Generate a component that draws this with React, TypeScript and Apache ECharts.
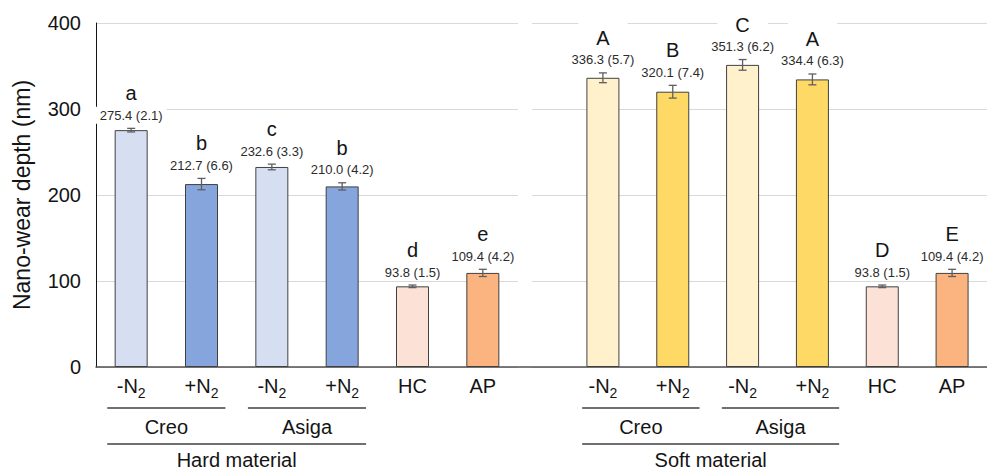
import React, { useEffect, useRef } from "react";
import * as echarts from "echarts";

const FONT = '"Liberation Sans", Arial, sans-serif';

// Tick labels
const hardLabels = ["-N2", "+N2", "-N2", "+N2", "HC", "AP"];
const softLabels = ["-N2", "+N2", "-N2", "+N2", "HC", "AP"];
const brandLabels = ["Creo", "Asiga"];
const materialLabels = ["Hard material", "Soft material"];
const yAxisName = "Nano-wear depth (nm)";

// Values (mean, SD) and significance letters
const hardMeans = [275.4, 212.7, 232.6, 210.0, 93.8, 109.4];
const hardSD = [2.1, 6.6, 3.3, 4.2, 1.5, 4.2];
const hardLetters = ["a", "b", "c", "b", "d", "e"];
const softMeans = [336.3, 320.1, 351.3, 334.4, 93.8, 109.4];
const softSD = [5.7, 7.4, 6.2, 6.3, 1.5, 4.2];
const softLetters = ["A", "B", "C", "A", "D", "E"];

// Colours
const hardColors = ["#D6DFF2", "#86A5DD", "#D6DFF2", "#86A5DD", "#FCE2D6", "#FBB37F"];
const softColors = ["#FFF1CC", "#FFD966", "#FFF1CC", "#FFD966", "#FCE2D6", "#FBB37F"];

const TEXT = "#141414";

function tickFormatter(labels: string[]) {
  return (_v: string, idx: number) => {
    const t = labels[idx];
    if (t.endsWith("N2")) return `{m|${t.slice(0, -1)}}{s|2}`;
    return `{m|${t}}`;
  };
}

const axisLabelRich = {
  m: { fontSize: 20, lineHeight: 24, verticalAlign: "top", color: TEXT, fontFamily: FONT },
  s: { fontSize: 14, lineHeight: 14, verticalAlign: "bottom", color: TEXT, fontFamily: FONT },
};

function makeRender(letters: string[]) {
  return (_params: any, api: any) => {
    const i = api.value(0);
    const m = api.value(1);
    const s = api.value(2);
    const top = api.coord([i, m + s]);
    const bot = api.coord([i, m - s]);
    const x = top[0];
    const cap = 4;
    const eb = { stroke: "#5f5f5f", lineWidth: 1.3 };
    return {
      type: "group",
      children: [
        { type: "line", shape: { x1: x, y1: top[1], x2: x, y2: bot[1] }, style: eb },
        { type: "line", shape: { x1: x - cap, y1: top[1], x2: x + cap, y2: top[1] }, style: eb },
        { type: "line", shape: { x1: x - cap, y1: bot[1], x2: x + cap, y2: bot[1] }, style: eb },
        {
          type: "text",
          x,
          y: top[1] - 35,
          style: {
            text: letters[i],
            fill: TEXT,
            fontSize: 20,
            fontFamily: FONT,
            align: "center",
            verticalAlign: "middle",
            backgroundColor: "#fff",
            padding: [7, 18],
          },
        },
        {
          type: "text",
          x,
          y: top[1] - 13,
          style: {
            text: `${m.toFixed(1)} (${s.toFixed(1)})`,
            fill: "#2b2b2b",
            fontSize: 13,
            fontFamily: FONT,
            align: "center",
            verticalAlign: "middle",
            backgroundColor: "#fff",
            padding: [2, 4],
          },
        },
      ],
    };
  };
}

export default function App() {
  const ref = useRef<HTMLDivElement>(null);
  useEffect(() => {
    if (!ref.current) return;
    const chart = echarts.init(ref.current, undefined, { renderer: "svg" });
    const yBase = { type: "value", min: 0, max: 400, interval: 100 };
    const option: any = {
      animation: false,
      textStyle: { fontFamily: FONT },
      grid: [
        { left: 96, top: 23, width: 422, height: 344 },
        { left: 532, top: 23, right: 0, height: 344 },
        { left: 568, top: 23, width: 423, height: 344 },
        { left: 96, top: 23, right: 0, height: 344 },
      ],
      xAxis: [
        {
          type: "category",
          gridIndex: 0,
          data: hardLabels,
          axisLine: { show: false },
          axisTick: { show: false },
          axisLabel: { formatter: tickFormatter(hardLabels), rich: axisLabelRich, margin: 9, interval: 0 },
        },
        { type: "value", gridIndex: 1, show: false },
        {
          type: "category",
          gridIndex: 2,
          data: softLabels,
          axisLine: { show: false },
          axisTick: { show: false },
          axisLabel: { formatter: tickFormatter(softLabels), rich: axisLabelRich, margin: 9, interval: 0 },
        },
        {
          type: "value",
          gridIndex: 3,
          axisLine: { show: true, onZero: false, lineStyle: { color: "#505050", width: 1.5 } },
          axisTick: { show: false },
          axisLabel: { show: false },
          splitLine: { show: false },
        },
      ],
      yAxis: [
        {
          ...yBase,
          gridIndex: 0,
          axisLine: { show: true, lineStyle: { color: TEXT, width: 1 } },
          axisTick: { show: false },
          axisLabel: { fontSize: 20, color: TEXT, margin: 15, fontFamily: FONT },
          splitLine: { lineStyle: { color: "#d9d9d9", width: 1 } },
          name: yAxisName,
          nameLocation: "middle",
          nameGap: 63,
          nameTextStyle: { fontSize: 23, color: TEXT, fontFamily: FONT },
        },
        {
          ...yBase,
          gridIndex: 1,
          axisLine: { show: false },
          axisTick: { show: false },
          axisLabel: { show: false },
          splitLine: { lineStyle: { color: "#d9d9d9", width: 1 } },
        },
        { ...yBase, gridIndex: 2, show: false },
        { ...yBase, gridIndex: 3, show: false },
      ],
      series: [
        {
          type: "bar",
          xAxisIndex: 0,
          yAxisIndex: 0,
          barWidth: 33,
          itemStyle: { borderColor: "#404040", borderWidth: 1 },
          data: hardMeans.map((v, i) => ({ value: v, itemStyle: { color: hardColors[i] } })),
        },
        {
          type: "bar",
          xAxisIndex: 2,
          yAxisIndex: 2,
          barWidth: 33,
          itemStyle: { borderColor: "#404040", borderWidth: 1 },
          data: softMeans.map((v, i) => ({ value: v, itemStyle: { color: softColors[i] } })),
        },
        {
          type: "custom",
          xAxisIndex: 0,
          yAxisIndex: 0,
          z: 5,
          renderItem: makeRender(hardLetters),
          data: hardMeans.map((v, i) => [i, v, hardSD[i]]),
        },
        {
          type: "custom",
          xAxisIndex: 2,
          yAxisIndex: 2,
          z: 5,
          renderItem: makeRender(softLetters),
          data: softMeans.map((v, i) => [i, v, softSD[i]]),
        },
      ],
    };
    chart.setOption(option);

    // Group labels under the axis, positioned from the category axes
    const graphics: any[] = [];
    const lineStyle = { stroke: "#404040", lineWidth: 1.3 };
    const textStyle = (text: string) => ({
      text,
      fill: TEXT,
      fontSize: 20,
      fontFamily: FONT,
      align: "center",
      verticalAlign: "middle",
    });
    [0, 2].forEach((axisIdx, g) => {
      const p = (i: number) => chart.convertToPixel({ xAxisIndex: axisIdx } as any, i) as number;
      const band = p(1) - p(0);
      const inset = band * 0.16;
      const shift = g === 1 ? 3 : 0;
      const segs: [number, number][] = [];
      [0, 2].forEach((start, b) => {
        const x1 = p(start) - band / 2 + inset + shift;
        const x2 = p(start + 1) + band / 2 - inset + shift;
        segs.push([x1, x2]);
        graphics.push({ type: "line", shape: { x1, y1: 408, x2, y2: 408 }, style: lineStyle });
        graphics.push({ type: "text", x: (x1 + x2) / 2, y: 427, style: textStyle(brandLabels[b]) });
      });
      const L = segs[0][0];
      const R = segs[1][1];
      graphics.push({ type: "line", shape: { x1: L, y1: 444, x2: R, y2: 444 }, style: lineStyle });
      graphics.push({ type: "text", x: (L + R) / 2, y: 460, style: textStyle(materialLabels[g]) });
    });
    chart.setOption({ graphic: graphics });

    return () => chart.dispose();
  }, []);
  return (
    <div
      ref={ref}
      style={{ position: "absolute", left: 0, top: 0, width: 987, height: 472, background: "#fff" }}
    />
  );
}
